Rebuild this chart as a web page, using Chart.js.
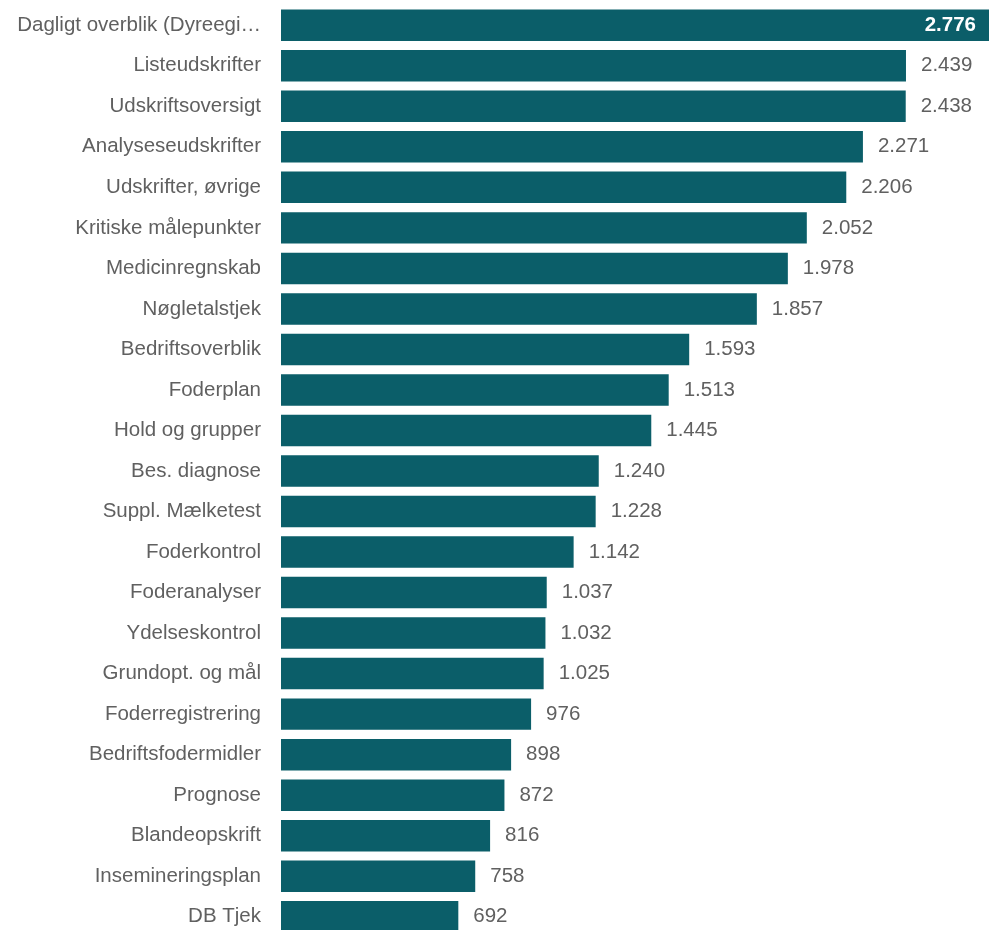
<!DOCTYPE html>
<html>
<head>
<meta charset="utf-8">
<script src="https://cdn.jsdelivr.net/npm/chart.js@4.4.1/dist/chart.umd.min.js"></script>
<style>
  html, body { margin: 0; padding: 0; background: #fff; overflow: hidden; }
  #wrap { position: relative; width: 989px; height: 937px; }
</style>
</head>
<body>
<div id="wrap"><canvas id="usageChart"></canvas></div>
<script>
// ── Data ────────────────────────────────────────────────────────────
const categories = [
  'Dagligt overblik (Dyreegi…', 'Listeudskrifter', 'Udskriftsoversigt', 'Analyseseudskrifter',
  'Udskrifter, øvrige', 'Kritiske målepunkter', 'Medicinregnskab', 'Nøgletalstjek',
  'Bedriftsoverblik', 'Foderplan', 'Hold og grupper', 'Bes. diagnose',
  'Suppl. Mælketest', 'Foderkontrol', 'Foderanalyser', 'Ydelseskontrol',
  'Grundopt. og mål', 'Foderregistrering', 'Bedriftsfodermidler', 'Prognose',
  'Blandeopskrift', 'Insemineringsplan', 'DB Tjek'
];
const counts = [
  2776, 2439, 2438, 2271, 2206, 2052, 1978, 1857, 1593, 1513, 1445, 1240,
  1228, 1142, 1037, 1032, 1025, 976, 898, 872, 816, 758, 692
];

const BAR_COLOR = '#0b5e69';
const TEXT_COLOR = '#606060';
const FONT = '"Liberation Sans", Arial, sans-serif';
const FONT_SIZE = 20.5;

// Danish number format: 2776 -> 2.776
function fmt(v) {
  return String(v).replace(/\B(?=(\d{3})+(?!\d))/g, '.');
}

// ── Value labels next to (or inside) the bars ───────────────────────
const valueLabels = {
  id: 'valueLabels',
  afterDatasetsDraw(chart) {
    const ctx = chart.ctx;
    const area = chart.chartArea;
    const meta = chart.getDatasetMeta(0);
    ctx.save();
    ctx.textBaseline = 'middle';
    meta.data.forEach(function(bar, i) {
      const txt = fmt(counts[i]);
      ctx.font = FONT_SIZE + 'px ' + FONT;
      const w = ctx.measureText(txt).width;
      if (bar.x + 15 + w > area.right) {
        ctx.font = 'bold ' + FONT_SIZE + 'px ' + FONT;
        ctx.fillStyle = '#ffffff';
        ctx.textAlign = 'right';
        ctx.fillText(txt, Math.min(bar.x, area.right) - 13, bar.y);
      } else {
        ctx.fillStyle = TEXT_COLOR;
        ctx.textAlign = 'left';
        ctx.fillText(txt, bar.x + 15, bar.y);
      }
    });
    ctx.restore();
  }
};

new Chart(document.getElementById('usageChart'), {
  type: 'bar',
  data: {
    labels: categories,
    datasets: [{
      data: counts,
      backgroundColor: BAR_COLOR,
      borderWidth: 0,
      barPercentage: 0.777,
      categoryPercentage: 1.0
    }]
  },
  options: {
    indexAxis: 'y',
    responsive: true,
    maintainAspectRatio: false,
    animation: false,
    layout: { padding: { top: 5, left: 0, right: 0, bottom: 0 } },
    plugins: {
      legend: { display: false },
      tooltip: { enabled: false }
    },
    scales: {
      x: {
        display: false,
        min: 0,
        max: 2763
      },
      y: {
        grid: { display: false, drawTicks: true, tickLength: 20 },
        border: { display: false },
        ticks: {
          padding: 0,
          color: TEXT_COLOR,
          font: { family: FONT, size: FONT_SIZE },
          autoSkip: false
        },
        afterFit: function(scale) {
          scale.width = 281;
          scale.paddingTop = 0;
          scale.paddingBottom = 0;
        }
      }
    }
  },
  plugins: [valueLabels]
});
</script>
</body>
</html>
